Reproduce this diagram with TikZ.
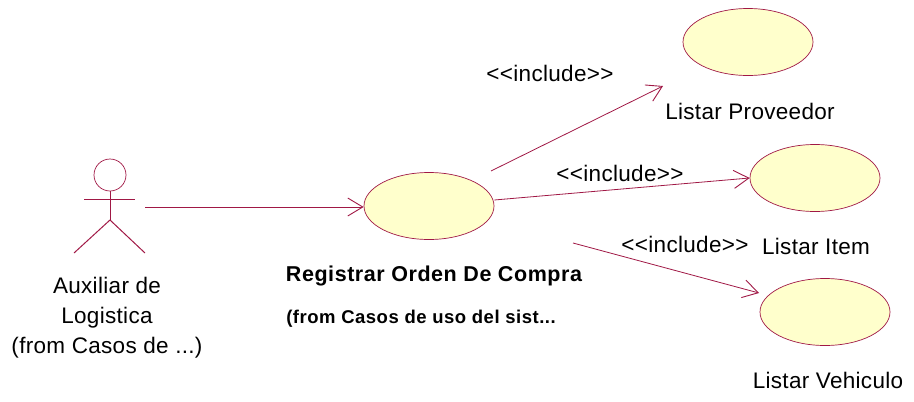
\documentclass[tikz,border=0pt]{standalone}
\usepackage{fontspec}
\setmainfont{Liberation Sans}
\usetikzlibrary{arrows.meta,shapes.geometric}
\definecolor{umlline}{HTML}{A01845}
\definecolor{umlfill}{HTML}{FFFFCC}
\tikzset{
  usecase/.style={ellipse,draw=umlline,fill=umlfill,line width=0.7pt,minimum width=130pt,minimum height=67pt,inner sep=0pt},
  conn/.style={draw=umlline,line width=0.8pt,-{Straight Barb[length=15pt,width=18pt,line width=0.9pt]}},
  limb/.style={draw=umlline,line width=1pt},
  lbl/.style={font=\fontsize{22.5}{30}\selectfont\addfontfeatures{LetterSpace=1.4},inner sep=0pt,text=black},
  boldlbl/.style={font=\fontsize{21.5}{24}\selectfont\bfseries\addfontfeatures{LetterSpace=2.6},inner sep=0pt,text=black},
  fromlbl/.style={font=\fontsize{18.5}{22}\selectfont\bfseries\addfontfeatures{LetterSpace=2.8},inner sep=0pt,text=black}
}
\begin{document}
\begin{tikzpicture}[x=1pt,y=-1pt]
\useasboundingbox (0,0) rectangle (914,402);
% use cases
\node[usecase] (main) at (429,206) {};
\node[usecase] (prov) at (748,42) {};
\node[usecase] (item) at (815,178) {};
\node[usecase] (vehi) at (825,312) {};
% actor
\node[circle,draw=umlline,line width=0.7pt,minimum size=32pt,inner sep=0pt] (head) at (110,175) {};
\coordinate (hip) at (110,220);
\coordinate (armL) at (84,199);
\coordinate (armR) at (135,199);
\coordinate (legL) at (74,253);
\coordinate (legR) at (145,253);
\draw[limb] (head.south) -- (hip);
\draw[limb] (armL) -- (armR);
\draw[limb] (legL) -- (hip) -- (legR);
% connectors
\coordinate (actorOut) at (145,207);
\coordinate (fromA) at (491,171);
\coordinate (toProv) at (663,86);
\coordinate (fromC) at (573,243);
\coordinate (toVehi) at (759,293);
\draw[conn] (actorOut) -- (main.west |- actorOut);
\draw[conn] (fromA) -- (toProv);
\draw[conn] (main.east |- 0,200) -- (item.west);
\draw[conn] (fromC) -- (toVehi);
% labels
\node[lbl] (inc1) at (550,73) {<{}<include>{}>};
\node[lbl] (inc2) at (620,173) {<{}<include>{}>};
\node[lbl] (inc3) at (685,244) {<{}<include>{}>};
\node[lbl] (lprov) at (750,111) {Listar Proveedor};
\node[lbl] (litem) at (816,246) {Listar Item};
\node[lbl] (lvehi) at (828,380) {Listar Vehiculo};
\node[boldlbl] (lmain) at (434,276) {Registrar Orden De Compra};
\node[fromlbl] (lfrom) at (421,319) {(from Casos de uso del sist...};
\node[lbl,align=center] (lactor) at (107,318) {Auxiliar de\\Logistica\\(from Casos de ...)};
\end{tikzpicture}
\end{document}
